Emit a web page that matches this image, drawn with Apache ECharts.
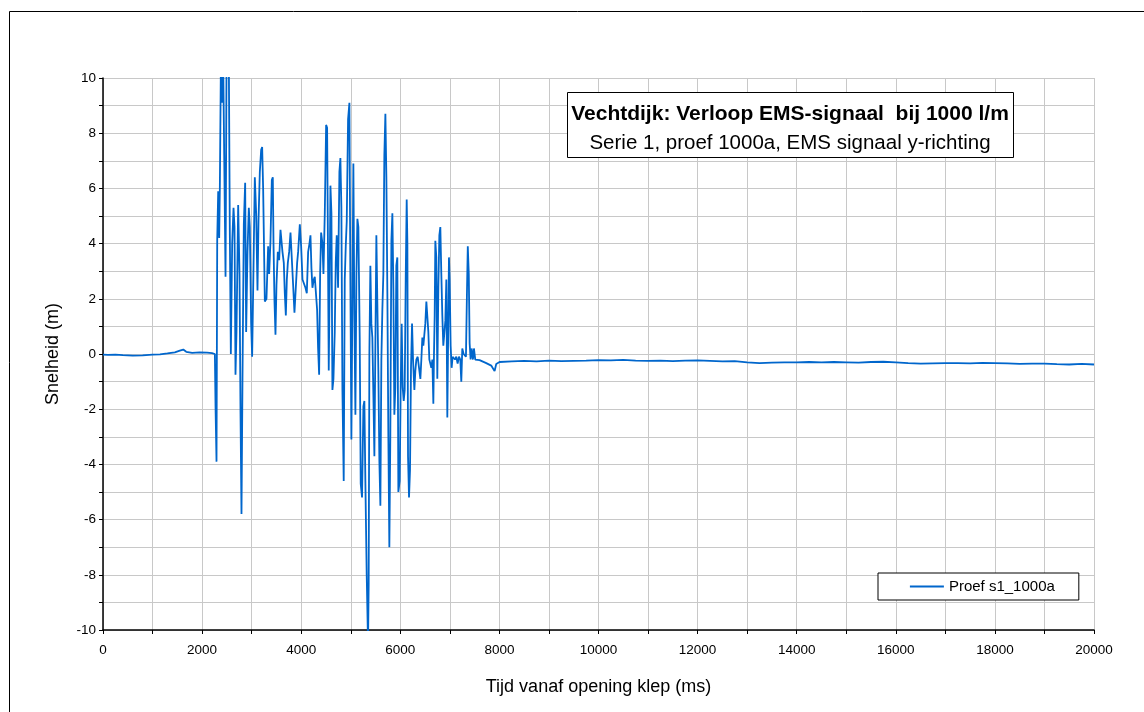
<!DOCTYPE html>
<html>
<head>
<meta charset="utf-8">
<title>Vechtdijk: Verloop EMS-signaal bij 1000 l/m</title>
<script src="https://cdn.jsdelivr.net/npm/echarts@6/dist/echarts.min.js"></script>
<style>
  html, body { margin: 0; padding: 0; background: #ffffff; }
  #chart { width: 1144px; height: 712px; }
</style>
</head>
<body>
<div id="chart"></div>
<script>
// EMS velocity signal, y-direction, test 1000a (time in ms, velocity)
const titleMain = 'Vechtdijk: Verloop EMS-signaal  bij 1000 l/m';
const titleSub = 'Serie 1, proef 1000a, EMS signaal y-richting';
const seriesName = 'Proef s1_1000a';
const xAxisName = 'Tijd vanaf opening klep (ms)';
const yAxisName = 'Snelheid (m)';

// quiet period before the valve opens
const preSignal = [
  [0, -0.02], [100, -0.03], [250, -0.02], [400, -0.04], [600, -0.06], [800, -0.05],
  [1000, -0.02], [1150, -0.01], [1300, 0.02], [1450, 0.06], [1550, 0.12], [1620, 0.16],
  [1680, 0.08], [1800, 0.04], [1950, 0.06], [2100, 0.05], [2200, 0.03], [2258, 0.0]
];

// turbulent burst after the valve opens
const burst = [
  [2271, -1.9], [2291, -3.9], [2305, 4.1], [2325, 5.9], [2345, 4.2], [2358, 6.0],
  [2379, 10.5], [2405, 9.1], [2426, 10.5], [2446, 7.2], [2473, 2.8], [2493, 10.5],
  [2540, 10.5], [2560, 4.3], [2580, 0.0], [2607, 4.0], [2634, 5.3], [2654, 4.6],
  [2674, -0.75], [2694, 0.8], [2728, 5.4], [2755, 2.9], [2775, -2.1], [2795, -5.8],
  [2815, -0.9], [2842, 4.7], [2869, 6.2], [2889, 0.8], [2916, 3.7], [2943, 5.3],
  [2963, 4.6], [2990, 1.1], [3010, -0.1], [3037, 3.1], [3064, 6.4], [3091, 5.1],
  [3118, 2.3], [3138, 4.8], [3165, 6.6], [3192, 7.4], [3212, 7.5], [3232, 6.0],
  [3266, 1.9], [3299, 2.0], [3333, 3.9], [3353, 2.9], [3380, 4.1], [3407, 6.3],
  [3427, 6.4], [3441, 4.0], [3461, 1.9], [3481, 0.7], [3501, 2.5], [3528, 3.7],
  [3555, 3.4], [3582, 4.5], [3602, 4.1], [3622, 3.7], [3649, 3.3], [3669, 2.2],
  [3690, 1.4], [3710, 2.7], [3730, 3.3], [3757, 3.7], [3784, 4.4], [3817, 4.4],
  [3837, 2.5], [3864, 1.5], [3891, 2.4], [3918, 3.3], [3938, 3.7], [3972, 4.7],
  [3999, 3.9], [4026, 2.7], [4059, 2.7], [4086, 2.4], [4113, 2.2], [4140, 3.7],
  [4167, 4.0], [4187, 4.3], [4207, 3.1], [4227, 2.4], [4254, 2.7], [4274, 2.8],
  [4294, 2.8], [4321, 1.6], [4341, 0.2], [4362, -0.75], [4382, 2.9], [4402, 4.4],
  [4429, 4.0], [4449, 2.9], [4476, 5.1], [4503, 8.3], [4523, 8.2], [4536, 4.9],
  [4556, -0.6], [4577, 3.1], [4590, 6.1], [4610, 5.1], [4630, -1.3], [4651, -0.9],
  [4677, 0.8], [4697, 3.3], [4717, 4.3], [4744, 2.4], [4771, 6.6], [4791, 7.1],
  [4811, 5.3], [4832, -1.3], [4858, -4.6], [4879, 2.7], [4899, 3.9], [4919, 4.8],
  [4946, 8.5], [4973, 9.1], [4993, 2.5], [5013, -3.1], [5033, 1.8], [5053, 6.9],
  [5073, 1.4], [5094, -2.2], [5114, 2.8], [5134, 4.9], [5154, 4.6], [5181, 0.6],
  [5201, -4.7], [5228, -5.2], [5255, -1.9], [5275, -1.7], [5295, -4.6], [5322, -8.0],
  [5349, -10.5], [5362, -8.3], [5376, 0.0], [5396, 3.2], [5416, 1.1], [5436, 0.6],
  [5457, -1.5], [5477, -3.7], [5497, 0.3], [5517, 4.3], [5537, 4.3], [5557, -0.6],
  [5578, -3.9], [5598, -5.5], [5618, -0.2], [5638, 1.6], [5658, 2.9], [5678, 7.2],
  [5699, 8.7], [5719, 6.4], [5739, 2.2], [5759, -3.0], [5779, -7.0], [5799, -2.9],
  [5820, 4.1], [5840, 5.1], [5860, 2.4], [5880, -2.2], [5900, -1.2], [5920, 3.2],
  [5940, 3.5], [5961, -5.0], [5988, -4.6], [6008, -1.2], [6028, 1.1], [6048, -1.2],
  [6069, -1.7], [6089, -1.3], [6109, 2.7], [6129, 5.6], [6143, 4.0], [6156, -3.7],
  [6176, -5.2], [6196, -4.2], [6216, -0.5], [6237, 1.1], [6257, -0.2], [6284, -1.3],
  [6304, -0.6], [6324, -0.2], [6351, -0.1], [6378, -0.5], [6405, -0.9], [6425, -0.2],
  [6445, 0.6], [6465, 0.3], [6485, 0.3], [6505, 1.1], [6526, 1.9], [6546, 1.9],
  [6566, 0.8], [6586, -0.2], [6606, -0.35], [6626, -0.5], [6647, -0.2], [6667, -1.8],
  [6680, 0.0], [6694, 1.4], [6707, 4.1], [6727, 3.5], [6747, -0.9], [6768, 2.4],
  [6788, 4.3], [6808, 4.6], [6828, 2.9], [6848, 1.4], [6868, 0.3], [6888, 0.3],
  [6909, 1.2], [6929, 2.7], [6949, -2.3], [6969, 1.2], [6982, 3.5], [6996, 2.7],
  [7016, 0.3], [7036, -0.5], [7056, -0.1], [7077, -0.1], [7103, -0.2], [7130, -0.1],
  [7157, -0.35], [7184, -0.1], [7211, -0.2], [7231, -1.0], [7251, 0.2], [7278, 0.0],
  [7305, 0.0], [7325, -0.1], [7345, 2.2], [7362, 3.9], [7382, 2.9], [7399, 0.4],
  [7419, -0.2], [7439, 0.2], [7466, -0.2], [7486, 0.2], [7513, -0.2], [7600, -0.22],
  [7735, -0.33], [7835, -0.42], [7903, -0.62], [7936, -0.36], [8003, -0.29]
];

// settled signal after the burst
const tail = [
  [8250, -0.27], [8500, -0.25], [8750, -0.27], [9000, -0.24], [9250, -0.26],
  [9500, -0.25], [9750, -0.24], [10000, -0.22], [10250, -0.23], [10500, -0.21],
  [10750, -0.24], [11000, -0.25], [11250, -0.24], [11500, -0.26], [11750, -0.24],
  [12000, -0.23], [12250, -0.25], [12500, -0.27], [12750, -0.26], [13000, -0.30],
  [13250, -0.33], [13500, -0.31], [13750, -0.30], [14000, -0.30], [14250, -0.29],
  [14500, -0.30], [14750, -0.29], [15000, -0.30], [15250, -0.31], [15500, -0.29],
  [15750, -0.28], [16000, -0.30], [16250, -0.33], [16500, -0.35], [16750, -0.34],
  [17000, -0.33], [17250, -0.33], [17500, -0.34], [17750, -0.32], [18000, -0.33],
  [18250, -0.34], [18500, -0.36], [18750, -0.35], [19000, -0.35], [19250, -0.37],
  [19500, -0.38], [19750, -0.36], [20000, -0.38]
];

const signal = preSignal.concat(burst, tail);

const FONT = '"Liberation Sans", Arial, sans-serif';
const GRID_COLOR = '#c8c8c8';
const LINE_COLOR = '#0066cc';

const chart = echarts.init(document.getElementById('chart'), null, { renderer: 'canvas' });

chart.setOption({
  backgroundColor: '#ffffff',
  animation: false,
  textStyle: { fontFamily: FONT },
  grid: { left: 103, right: 50, top: 78, bottom: 82, containLabel: false },
  xAxis: {
    type: 'value',
    min: 0, max: 20000, interval: 2000,
    name: xAxisName,
    nameLocation: 'middle',
    nameGap: 48,
    nameTextStyle: { fontSize: 18, color: '#000', fontFamily: FONT },
    axisLine: { show: true, onZero: false, lineStyle: { color: '#000', width: 1.5 } },
    axisTick: { show: true, length: 4, lineStyle: { color: '#000' } },
    minorTick: { show: true, splitNumber: 2, length: 4, lineStyle: { color: '#000' } },
    axisLabel: {
      fontSize: 13.5, color: '#000', margin: 13, fontFamily: FONT,
      formatter: function (v) { return String(v); }
    },
    splitLine: { show: true, lineStyle: { color: GRID_COLOR, width: 1 } },
    minorSplitLine: { show: true, lineStyle: { color: GRID_COLOR, width: 1 } }
  },
  yAxis: {
    type: 'value',
    min: -10, max: 10, interval: 2,
    name: yAxisName,
    nameLocation: 'middle',
    nameGap: 41,
    nameRotate: 90,
    nameTextStyle: { fontSize: 18, color: '#000', fontFamily: FONT },
    axisLine: { show: true, onZero: false, lineStyle: { color: '#000', width: 1.5 } },
    axisTick: { show: true, length: 4, lineStyle: { color: '#000' } },
    minorTick: { show: true, splitNumber: 2, length: 4, lineStyle: { color: '#000' } },
    axisLabel: {
      fontSize: 13.5, color: '#000', margin: 7, fontFamily: FONT,
      formatter: function (v) { return String(v); }
    },
    splitLine: { show: true, lineStyle: { color: GRID_COLOR, width: 1 } },
    minorSplitLine: { show: true, lineStyle: { color: GRID_COLOR, width: 1 } }
  },
  legend: {
    show: true,
    left: 878, top: 573,
    orient: 'horizontal',
    backgroundColor: '#ffffff',
    borderColor: '#000',
    borderWidth: 1,
    borderRadius: 0,
    padding: [6, 24, 6, 31],
    itemWidth: 34,
    itemHeight: 14,
    itemGap: 5,
    itemStyle: { opacity: 0 },
    lineStyle: { width: 1.8 },
    textStyle: { fontSize: 15, color: '#000', fontFamily: FONT },
    data: [seriesName]
  },
  series: [{
    name: seriesName,
    type: 'line',
    data: signal,
    showSymbol: false,
    symbol: 'none',
    clip: true,
    z: 3,
    lineStyle: { color: LINE_COLOR, width: 1.8 },
    itemStyle: { color: LINE_COLOR }
  }],
  graphic: [
    {
      type: 'rect',
      silent: true,
      shape: { x: 9.5, y: 11.5, width: 1160, height: 720 },
      style: { fill: 'none', stroke: '#000', lineWidth: 1 },
      z: -10
    },
    {
      type: 'group',
      left: 567, top: 92,
      z: 100,
      children: [
        {
          type: 'rect',
          z: 100,
          shape: { x: 0.5, y: 0.5, width: 446, height: 65 },
          style: { fill: '#ffffff', stroke: '#000', lineWidth: 1 }
        },
        {
          type: 'text',
          z: 101,
          x: 223, y: 22,
          style: {
            text: titleMain,
            fontSize: 21, fontWeight: 'bold', fontFamily: FONT,
            fill: '#000', align: 'center', verticalAlign: 'middle'
          }
        },
        {
          type: 'text',
          z: 101,
          x: 223, y: 51,
          style: {
            text: titleSub,
            fontSize: 20.5, fontFamily: FONT,
            fill: '#000', align: 'center', verticalAlign: 'middle'
          }
        }
      ]
    }
  ]
});
</script>
</body>
</html>
